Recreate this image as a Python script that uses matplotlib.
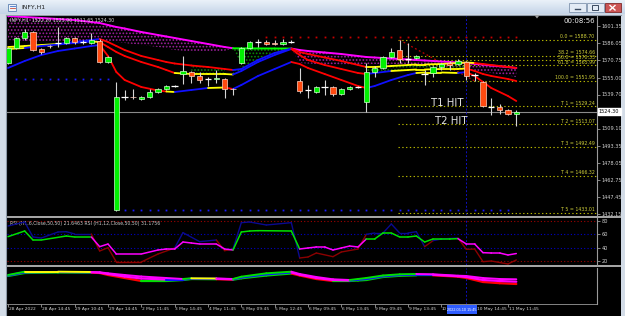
import numpy as np
import matplotlib
matplotlib.use("Agg")
import matplotlib.pyplot as plt
from matplotlib.collections import LineCollection
from matplotlib.patches import Rectangle, Polygon
from matplotlib.colors import LinearSegmentedColormap
from matplotlib.transforms import blended_transform_factory

W, H = 625, 316
plt.rcParams['font.family'] = ['DejaVu Sans']
plt.rcParams['hatch.linewidth'] = 0.8

# ---------------- data ----------------
window_title = "INFY,H1"
ohlc_title = "INFY,H1  1522.20 1525.90 1511.65 1524.30"
clock_text = "00:08:56"
rsi_title = "RSI (H1,6,Close,50,50) 21.6463 RSI (H1,12,Close,50,50) 31.1756"

opens = [1568.0, 1581.6, 1590.6, 1596.0, 1580.7, 1583.4, 1586.3, 1586.0, 1590.6, 1587.0,
         1586.0, 1587.9, 1569.0, 1435.8, 1537.4, 1537.8, 1535.7, 1537.4, 1542.0, 1544.6,
         1547.4, 1558.1, 1560.0, 1556.4, 1553.6, 1553.6, 1553.6, 1545.0, 1568.0, 1581.6,
         1587.0, 1587.0, 1586.0, 1585.2, 1587.0, 1551.9, 1543.8, 1541.9, 1546.5, 1546.5,
         1540.2, 1544.6, 1546.5, 1533.0, 1560.0, 1563.6, 1573.4, 1579.8, 1571.6, 1572.6,
         1558.2, 1559.0, 1564.5, 1568.0, 1567.2, 1568.9, 1557.3, 1550.9, 1528.5, 1528.5,
         1525.8, 1522.2]
highs = [1582.5, 1591.5, 1598.7, 1596.9, 1581.5, 1584.5, 1600.5, 1591.4, 1591.5, 1589.0,
         1595.0, 1589.6, 1574.0, 1551.0, 1543.8, 1544.6, 1538.0, 1545.0, 1545.5, 1548.5,
         1548.5, 1574.4, 1561.0, 1560.0, 1555.5, 1561.8, 1555.0, 1545.5, 1582.5, 1588.0,
         1589.6, 1589.0, 1589.0, 1589.5, 1589.2, 1563.6, 1548.3, 1547.0, 1552.8, 1547.0,
         1545.5, 1547.0, 1547.5, 1568.0, 1565.4, 1574.4, 1581.6, 1588.8, 1586.0, 1575.0,
         1562.0, 1565.0, 1568.0, 1570.0, 1571.5, 1570.0, 1559.0, 1551.5, 1536.6, 1531.2,
         1526.5, 1525.9]
lows = [1567.2, 1580.7, 1588.8, 1579.0, 1576.2, 1582.0, 1582.5, 1585.2, 1585.2, 1585.5,
        1585.5, 1568.0, 1568.5, 1435.0, 1534.8, 1535.7, 1534.8, 1536.6, 1541.0, 1543.8,
        1546.5, 1549.2, 1550.0, 1550.0, 1547.3, 1550.0, 1536.6, 1539.2, 1567.2, 1581.0,
        1582.5, 1584.5, 1584.5, 1584.5, 1586.0, 1541.0, 1536.6, 1541.0, 1539.3, 1538.4,
        1539.5, 1543.8, 1545.5, 1524.0, 1555.5, 1562.5, 1572.5, 1568.0, 1568.0, 1572.0,
        1548.2, 1555.5, 1561.8, 1561.8, 1566.5, 1552.8, 1551.95, 1528.5, 1521.3, 1522.2,
        1521.5, 1511.65]
closes = [1581.6, 1590.6, 1596.0, 1579.8, 1578.0, 1583.0, 1586.0, 1590.6, 1587.0, 1587.2,
          1588.8, 1569.0, 1573.4, 1537.5, 1537.5, 1537.0, 1537.4, 1542.0, 1544.6, 1547.4,
          1547.6, 1560.9, 1556.4, 1552.8, 1553.8, 1554.6, 1544.6, 1544.4, 1581.6, 1587.0,
          1586.9, 1585.2, 1585.2, 1587.0, 1587.1, 1542.9, 1543.7, 1546.5, 1546.4, 1540.2,
          1544.6, 1546.5, 1546.6, 1560.0, 1563.6, 1573.4, 1578.0, 1571.6, 1571.7, 1574.4,
          1558.1, 1564.5, 1567.2, 1566.3, 1569.9, 1556.3, 1557.2, 1529.3, 1528.4, 1525.8,
          1522.2, 1524.3]

date_idx = [0, 4, 8, 12, 16, 20, 24, 28, 32, 36, 40, 44, 48, 52, 56, 60]
date_labels = ["28 Apr 2022", "28 Apr 14:45", "29 Apr 10:45", "29 Apr 14:45", "2 May 11:45",
               "3 May 14:45", "4 May 11:45", "5 May 09:45", "5 May 12:45", "6 May 09:45",
               "6 May 13:45", "9 May 09:45", "9 May 13:45", "10", "10 May 14:45",
               "11 May 11:45"]
price_ticks = [1601.35, 1586.05, 1570.75, 1555.00, 1539.70, 1509.10, 1493.35,
               1478.05, 1462.75, 1447.45, 1432.15]
price_tick_labels = ["1601.35", "1586.05", "1570.75", "1555.00", "1539.70", "1509.10",
                     "1493.35", "1478.05", "1462.75", "1447.45", "1432.15"]
last_price = 1524.30
last_price_label = "1524.30"

fib_names = ["0.0", "38.2", "50.0", "61.8", "100.0", "T 1", "T 2", "T 3", "T 4", "T 5"]
fib_levels = [1588.70, 1574.66, 1570.33, 1565.99, 1551.95, 1529.24, 1513.07, 1492.49,
              1466.32, 1433.01]
fib_start_idx = 47
fib_trend_idx = [47, 56]
fib_trend_price = [1588.70, 1551.95]
hit_labels = ["T1 HIT", "T2 HIT"]

blue_dots_hi_idx = list(range(1, 13))
blue_dots_hi_level = 1553.65
blue_dots_lo_idx = list(range(14, 61))
blue_dots_lo_level = 1435.75
red_dots_idx = list(range(31, 62))
red_dots_level = 1591.7

crosshair_idx = 55
crosshair_label = "2022.05.10 15:45"

# moving-average ribbon, sampled at anchor bars
ma_idx = [0, 2, 4, 6, 8, 10, 11, 12, 13, 14, 16, 18, 19, 20, 22, 24, 26, 27, 28, 30, 32,
          34, 35, 36, 38, 40, 42, 43, 44, 46, 48, 49, 50, 52, 54, 55, 56, 57, 58, 60, 61]
ma_slow_top = [1610.35, 1609.45, 1608.55, 1607.65, 1606.75, 1604.95, 1604.05, 1602.25, 1600.45,
               1599.1, 1595.95, 1593.25, 1591.9, 1590.55, 1587.85, 1585.15, 1582.45, 1581.3,
               1581.2, 1581.15, 1581.1, 1581.05, 1579.75, 1578.85, 1577.5, 1576.15, 1574.35,
               1573.45, 1573.0, 1572.1, 1571.2, 1570.75, 1570.3, 1569.4, 1568.5, 1568.05,
               1567.3, 1566.6, 1565.8, 1564.45, 1563.55]
cloud_bottom = [1588.75, 1587.85, 1587.4, 1586.95, 1586.95, 1587.85, 1588.75, 1587.85, 1586.95,
                1586.05, 1584.25, 1582.45, 1581.1, 1579.75, 1578.4, 1577.95, 1578.85, 1581.3,
                1563.55, 1571.65, 1577.95, 1581.05, 1568.05, 1567.6, 1566.7, 1566.25, 1566.7,
                1567.15, 1567.15, 1567.15, 1566.7, 1566.25, 1565.8, 1564.45, 1562.65, 1561.75,
                1560.85, 1559.95, 1559.05, 1556.8, 1555.45]
ma_fast = [1563.55, 1569.85, 1575.25, 1578.85, 1581.1, 1583.35, 1584.25, 1574.35, 1559.95,
           1552.75, 1546.45, 1543.3, 1542.4, 1541.95, 1543.75, 1545.55, 1546.0, 1544.65,
           1548.25, 1556.35, 1562.65, 1568.95, 1567.15, 1563.55, 1558.15, 1552.75, 1547.35,
           1545.55, 1547.35, 1552.75, 1557.25, 1559.05, 1559.5, 1559.5, 1559.05, 1559.95,
           1556.35, 1550.95, 1545.55, 1538.35, 1533.85]
ma_mid = [1580.65, 1581.55, 1583.35, 1584.7, 1586.05, 1587.4, 1586.95, 1582.45, 1577.95,
          1574.35, 1568.95, 1564.45, 1561.75, 1559.05, 1558.15, 1558.15, 1558.15, 1557.7,
          1560.85, 1568.95, 1575.25, 1580.65, 1575.25, 1570.75, 1566.25, 1562.65, 1559.05,
          1558.15, 1559.05, 1560.85, 1561.75, 1562.2, 1562.2, 1562.65, 1562.65, 1563.1,
          1560.85, 1558.15, 1556.35, 1553.65, 1551.85]
ma_slow = [1582.45, 1583.35, 1584.25, 1585.15, 1586.95, 1588.75, 1589.65, 1586.95, 1583.35,
           1579.75, 1574.35, 1570.75, 1568.95, 1567.6, 1565.8, 1564.45, 1562.65, 1561.75,
           1562.65, 1570.75, 1577.05, 1581.1, 1577.95, 1576.15, 1573.0, 1569.85, 1566.25,
           1564.45, 1564.45, 1565.35, 1566.25, 1566.7, 1566.7, 1567.15, 1568.05, 1568.5,
           1568.05, 1567.15, 1566.25, 1564.45, 1563.55]

# RSI panel
rsi_levels_outer = [80, 20]
rsi_levels_inner = [60, 40]
rsi6_idx = [0, 2, 3, 4, 6, 7, 8, 10, 11, 12, 13, 16, 18, 20, 21, 23, 25, 26, 27, 28, 29, 31,
            34, 35, 36, 37, 39, 40, 42, 43, 44, 45, 46, 47, 48, 49, 50, 51, 52, 54, 55, 56,
            57, 58, 60, 61]
rsi6_val = [72.5, 78.5, 56, 54.5, 63.5, 64, 60.5, 60.5, 35, 40, 18.5, 18.5, 30.5, 39.5, 62.5,
            49, 51.5, 35.5, 38, 77.5, 78.5, 74, 77.5, 24.5, 26, 32, 26.5, 33.5, 38, 60, 62,
            62, 75.5, 62, 62, 64, 41.5, 50.5, 53, 54.5, 37.5, 38, 19, 20, 15.5, 21.6]
rsi12_idx = [0, 2, 3, 4, 7, 8, 10, 11, 12, 13, 16, 18, 19, 20, 21, 22, 23, 25, 26, 27, 28,
             29, 30, 34, 35, 36, 37, 38, 39, 40, 41, 42, 43, 44, 45, 46, 47, 48, 49, 50, 51,
             52, 53, 54, 55, 56, 57, 58, 59, 60, 61]
rsi12_val = [56.5, 65, 51.5, 51.5, 57.5, 56, 56, 41.5, 45.5, 30.5, 30.5, 36.5, 38, 38, 48.5,
             47, 45.5, 45.5, 38, 36.5, 63.5, 65, 65.5, 65, 38, 39.5, 41, 41, 36.5, 39.5, 42.5,
             41, 53, 53, 62, 62, 56, 56, 57.5, 48.5, 53, 53, 53, 53.5, 45.5, 45.5, 32.5, 32,
             32, 29, 31.2]

# bottom oscillator ribbon
osc_idx = [0, 2, 6, 10, 11, 12, 14, 16, 19, 21, 22, 25, 27, 28, 31, 34, 35, 37, 39, 41, 42,
           43, 45, 47, 49, 51, 54, 55, 57, 59, 61]
osc_upper = [25, 28.3, 28.3, 28, 27.7, 26.7, 25, 23.5, 22, 21, 21.7, 21.5, 21, 23.3, 26.7,
             28.3, 26, 23, 20.7, 20, 21, 22, 24.5, 25.7, 26, 25.7, 24.3, 24, 22, 21, 20.7]
osc_mid = [24.5, 27.7, 28, 27.7, 27.4, 26, 23.5, 21.5, 20.5, 20.5, 21.3, 21.2, 20.7, 22.5,
           25.7, 27.5, 25.3, 22, 20, 19.5, 20.3, 21, 23.7, 25, 25.3, 25.2, 23.8, 23, 20, 19,
           18.3]
osc_lower = [24, 27, 27.5, 27.3, 27, 25, 22, 19, 19, 20, 21, 20.8, 20.3, 21.7, 24.5, 26.5,
             24.5, 21, 19, 19, 19.5, 20, 23, 24.2, 24.7, 24.7, 23.3, 22, 18, 16.8, 16]

# ---------------- helpers ----------------
def rect(x0, y0, x1, y1):
    return [x0 / W, 1 - y1 / H, (x1 - x0) / W, (y1 - y0) / H]

def slope_colors(x, y, up, flat, down, thr):
    cols = []
    for k in range(len(x) - 1):
        s = (y[k + 1] - y[k]) / (x[k + 1] - x[k])
        cols.append(up if s > thr else (down if s < -thr else flat))
    return cols

def level_colors(y, hi, lo, mid_val):
    return [hi if (y[k] + y[k + 1]) / 2 >= mid_val else lo for k in range(len(y) - 1)]

def colored_line(ax, x, y, colors, lw, z):
    pts = np.column_stack([x, y])
    segs = np.stack([pts[:-1], pts[1:]], axis=1)
    ax.add_collection(LineCollection(segs, colors=colors, linewidths=lw, zorder=z,
                                     capstyle='round', joinstyle='round'))

X_LEFT = (7 - 8) / 8.333
X_RIGHT = (597 - 8) / 8.333
LABEL_C = '#D2D2D2'
SCALE_C = '#9A9A9A'
NARROW = ['Liberation Sans', 'DejaVu Sans']

fig = plt.figure(figsize=(W / 100, H / 100), dpi=100)
fig.patch.set_facecolor('#D3DCE7')

# ---------------- window chrome (background) ----------------
bg = fig.add_axes([0, 0, 1, 1])
bg.axis('off')
grad = np.linspace(0, 1, 30).reshape(-1, 1)
cm = LinearSegmentedColormap.from_list('t', ['#EAF1F9', '#C5D5E8'])
bg.imshow(grad, extent=(0, W, 14, 0), aspect='auto', cmap=cm, origin='upper')
bg.add_patch(Rectangle((6, 14.5), 615, 302, fc='black', ec='none'))
bg.plot([6, 621], [14.8, 14.8], color='#8E9AA8', lw=0.8)
bg.plot([6, 6], [14.5, 316], color='#8E9AA8', lw=0.8)
bg.add_patch(Rectangle((7, 215.6), 614, 2.2, fc='#A4A4A4', ec='none'))
bg.add_patch(Rectangle((7, 265.2), 614, 2.2, fc='#A4A4A4', ec='none'))
bg.set_xlim(0, W)
bg.set_ylim(H, 0)

# ---------------- main price panel ----------------
ax = fig.add_axes(rect(7, 16, 597, 215))
ax.set_facecolor('none')
ax.set_xlim(X_LEFT, X_RIGHT)
ax.set_ylim(1431.25, 1610.35)

mi = np.array(ma_idx, dtype=float)
top = np.array(ma_slow_top)
cb = np.array(cloud_bottom)
mcols = slope_colors(mi, top, '#00FF00', '#00FF00', '#FF00FF', 0.3)
for k in range(len(mi) - 1):
    hc = '#A020A0' if mcols[k] == '#FF00FF' else '#0A8A0A'
    ax.fill_between(mi[k:k + 2], top[k:k + 2], cb[k:k + 2], facecolor='none',
                    edgecolor=hc, hatch='.....', linewidth=0, zorder=2)

mid = np.array(ma_mid)
slow = np.array(ma_slow)
fast = np.array(ma_fast)
for k in range(len(mi) - 1):
    s_mid = (mid[k + 1] - mid[k]) / (mi[k + 1] - mi[k])
    if slow[k] > mid[k] and slow[k + 1] > mid[k + 1] and s_mid > -0.3:
        ax.fill_between(mi[k:k + 2], slow[k:k + 2], mid[k:k + 2], facecolor='none',
                        edgecolor='#0A8A0A', hatch='.....', linewidth=0, zorder=2)

colored_line(ax, mi, top, mcols, 1.4, 4)
for line in (slow, mid, fast):
    colored_line(ax, mi, line, slope_colors(mi, line, '#1010FF', '#FFFF00', '#FF0000', 0.55), 1.3, 4)

# fib / target levels
for name, lvl in zip(fib_names, fib_levels):
    ax.hlines(lvl, fib_start_idx - 0.2, X_RIGHT, colors='#B9B900', linestyles=(0, (1.2, 2.2)),
              lw=0.8, zorder=3)
    ax.text(70.4, lvl + 0.5, f"{name} = {lvl:.2f}", color='#CFCF3A', fontsize=3.4,
            ha='right', va='bottom', zorder=8)
ax.plot(fib_trend_idx, fib_trend_price, color='#C00000', ls=(0, (1.5, 2)), lw=0.9, zorder=3)

# dotted level markers
ax.plot(blue_dots_hi_idx, [blue_dots_hi_level] * len(blue_dots_hi_idx), 's', color='#1A1AFF',
        ms=1.3, mew=0, zorder=3)
ax.plot(blue_dots_lo_idx, [blue_dots_lo_level] * len(blue_dots_lo_idx), 's', color='#1A1AFF',
        ms=1.3, mew=0, zorder=3)
ax.plot(red_dots_idx, [red_dots_level] * len(red_dots_idx), 's', color='#C80000',
        ms=1.3, mew=0, zorder=3)

# candles
x = np.arange(len(opens))
o, h, l, c = map(np.array, (opens, highs, lows, closes))
bull = c > o + 0.3
bear = c < o - 0.3
doji = ~(bull | bear)
ax.vlines(x, l, h, colors='#D5D5D5', lw=0.8, zorder=5)
ax.bar(x[bull], (c - o)[bull], bottom=o[bull], width=0.62, color='#00F000',
       edgecolor='#C8FFC8', lw=0.5, zorder=6)
ax.bar(x[bear], (c - o)[bear], bottom=o[bear], width=0.62, color='#FF4A10',
       edgecolor='#FFD0C0', lw=0.5, zorder=6)
ax.hlines(((o + c) / 2)[doji], x[doji] - 0.38, x[doji] + 0.38, colors='white', lw=0.9, zorder=6)

ax.axhline(last_price, color='#8A8A8A', lw=0.8, zorder=3)
ax.axvline(crosshair_idx, color='#1010C0', ls=(0, (2, 2)), lw=0.7, zorder=3)

ax.text(50.76, 1532.0, hit_labels[0], color='#E6E6E6', fontsize=7.3, ha='left', va='center', zorder=8)
ax.text(51.24, 1515.9, hit_labels[1], color='#E6E6E6', fontsize=7.3, ha='left', va='center', zorder=8)

ax.yaxis.tick_right()
ax.set_yticks(price_ticks)
ax.set_yticklabels(price_tick_labels)
ax.tick_params(axis='y', colors=SCALE_C, labelcolor=LABEL_C, labelsize=3.6, length=2,
               width=0.6, pad=1.2)
ax.tick_params(axis='x', bottom=False, labelbottom=False)
for s in ('left', 'top', 'bottom'):
    ax.spines[s].set_visible(False)
ax.spines['right'].set_color(SCALE_C)
ax.spines['right'].set_linewidth(0.8)
tr = blended_transform_factory(ax.transAxes, ax.transData)
ax.text(1.003, last_price, last_price_label, transform=tr, fontsize=3.6, color='black',
        ha='left', va='center', zorder=9,
        bbox=dict(boxstyle='square,pad=0.25', fc='white', ec='white'))

# ---------------- RSI panel ----------------
rax = fig.add_axes(rect(7, 218, 597, 265))
rax.set_facecolor('none')
rax.set_xlim(X_LEFT, X_RIGHT)
rax.set_ylim(14, 84.5)
for lv in rsi_levels_outer:
    rax.axhline(lv, color='#A00000', ls=(0, (1, 2)), lw=0.8)
for lv in rsi_levels_inner:
    rax.axhline(lv, color='#0000C8', ls=(0, (1, 2)), lw=0.8)
rax.axvline(crosshair_idx, color='#1010C0', ls=(0, (2, 2)), lw=0.7)
r6x, r6y = np.array(rsi6_idx, float), np.array(rsi6_val)
r12x, r12y = np.array(rsi12_idx, float), np.array(rsi12_val)
colored_line(rax, r6x, r6y, level_colors(r6y, '#0A0A90', '#8B0000', 50), 1.0, 4)
colored_line(rax, r12x, r12y, level_colors(r12y, '#00E000', '#FF00FF', 50), 1.1, 5)
rax.text(0.005, 0.94, rsi_title, transform=rax.transAxes, fontsize=3.3, color='#C8C8C8',
         ha='left', va='top')
rax.yaxis.tick_right()
rax.set_yticks(rsi_levels_outer + rsi_levels_inner)
rax.set_yticklabels([str(v) for v in rsi_levels_outer + rsi_levels_inner])
rax.tick_params(axis='y', colors=SCALE_C, labelcolor=LABEL_C, labelsize=3.6, length=2,
                width=0.6, pad=1.2)
rax.tick_params(axis='x', bottom=False, labelbottom=False)
for s in ('left', 'top', 'bottom'):
    rax.spines[s].set_visible(False)
rax.spines['right'].set_color(SCALE_C)
rax.spines['right'].set_linewidth(0.8)

# ---------------- oscillator ribbon panel ----------------
oax = fig.add_axes(rect(7, 268, 597, 303.5))
oax.set_facecolor('none')
oax.set_xlim(X_LEFT, X_RIGHT)
oax.set_ylim(-3.5, 32)
oax.axvline(crosshair_idx, color='#1010C0', ls=(0, (2, 2)), lw=0.7)
ox = np.array(osc_idx, float)
lo_a, mi_a, up_a = np.array(osc_lower), np.array(osc_mid), np.array(osc_upper)
colored_line(oax, ox, lo_a, slope_colors(ox, lo_a, '#00E000', '#00E000', '#FF0000', 0.15), 1.6, 3)
colored_line(oax, ox, mi_a, slope_colors(ox, mi_a, '#1010FF', '#1010FF', '#FF00FF', 0.15), 1.6, 4)
colored_line(oax, ox, up_a, slope_colors(ox, up_a, '#00E000', '#FFFF00', '#FF00FF', 0.15), 1.4, 5)
oax.set_xticks(date_idx)
oax.tick_params(axis='x', colors=SCALE_C, labelbottom=False, length=2, width=0.6)
oax.tick_params(axis='y', left=False, labelleft=False)
dtr = blended_transform_factory(oax.transData, oax.transAxes)
for k, (di, lab) in enumerate(zip(date_idx, date_labels)):
    dx = 2.0 if k == len(date_idx) - 2 else 0.4
    fam = NARROW if k == len(date_idx) - 3 else ['DejaVu Sans']
    oax.annotate(lab, xy=(di, 0), xycoords=dtr, xytext=(dx, -4.2), textcoords='offset points',
                 fontsize=3.15, family=fam, color=LABEL_C, ha='left', va='center',
                 annotation_clip=False)
for s in ('left', 'top'):
    oax.spines[s].set_visible(False)
oax.spines['right'].set_color(SCALE_C)
oax.spines['bottom'].set_color(SCALE_C)
oax.spines['right'].set_linewidth(0.8)
oax.spines['bottom'].set_linewidth(0.6)

# ---------------- overlay (texts, buttons) ----------------
ov = fig.add_axes([0, 0, 1, 1])
ov.axis('off')
ov.set_facecolor('none')
ov.set_xlim(0, W)
ov.set_ylim(H, 0)
ov.text(10, 20.5, ohlc_title, fontsize=3.4, color='#DADADA', ha='left', va='center')
ov.text(563, 21, clock_text, fontsize=5.0, color='#F0F0F0', ha='left', va='center')
ov.add_patch(Polygon([[534.5, 15.3], [539.5, 15.3], [537, 18.5]], closed=True, fc='#A0A0A0', ec='none'))
ov.add_patch(Rectangle((446.8, 305.3), 30.4, 8.6, fc='#2E5CFF', ec='none'))
ov.text(462, 309.6, crosshair_label, fontsize=2.7, family=NARROW, color='white',
        ha='center', va='center')
# window title
ov.add_patch(Rectangle((8, 3.5), 8, 7, fc='#EEF3F9', ec='#5C80B2', lw=0.6))
ov.plot([9.5, 14.5], [6, 6], color='#3C6EC8', lw=0.6)
ov.plot([9.5, 14.5], [8.3, 8.3], color='#C84A3C', lw=0.6)
ov.text(21, 7.3, window_title, fontsize=4.4, color='#1E1E1E', ha='left', va='center')
# window buttons
ov.add_patch(Rectangle((569, 3.2), 16.5, 8.8, fc='#E3EBF5', ec='#8094AE', lw=0.6))
ov.plot([574.5, 580], [9.3, 9.3], color='#3A4A60', lw=1.0)
ov.add_patch(Rectangle((587, 3.2), 16.5, 8.8, fc='#E3EBF5', ec='#8094AE', lw=0.6))
ov.add_patch(Rectangle((592, 5.3), 6, 4.6, fc='none', ec='#3A4A60', lw=0.7))
ov.add_patch(Rectangle((604.5, 3.2), 16, 8.8, fc='#CC5555', ec='#7E2B2B', lw=0.6))
ov.plot([610, 615], [5.5, 10], color='white', lw=1.0)
ov.plot([610, 615], [10, 5.5], color='white', lw=1.0)

fig.savefig('out.png', dpi=100, facecolor=fig.get_facecolor())
